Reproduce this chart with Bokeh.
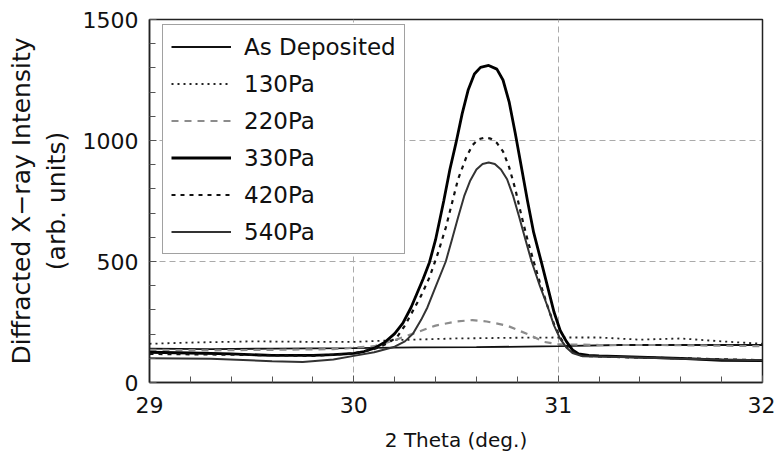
from bokeh.plotting import figure
from bokeh.embed import file_html
from bokeh.resources import INLINE
from bokeh.models import FixedTicker, Range1d

# ---- data ----
x_asdep = [29.0, 29.3, 29.6, 30.0, 30.3, 30.6, 31.0, 31.3, 31.6, 32.0]
y_asdep = [140, 138, 140, 142, 145, 146, 150, 155, 155, 155]

x_130 = [29.0, 29.2, 29.5, 29.8, 30.0, 30.2, 30.5, 30.8, 31.0, 31.2, 31.4, 31.6, 31.8, 32.0]
y_130 = [160, 165, 170, 168, 168, 175, 182, 185, 186, 186, 177, 182, 170, 160]

x_220 = [29.0, 29.3, 29.6, 29.9, 30.1, 30.2, 30.29, 30.4, 30.5, 30.58, 30.65, 30.75, 30.85,
         30.93, 31.0, 31.2, 31.5, 31.8, 32.0]
y_220 = [135, 133, 135, 138, 150, 175, 202, 235, 252, 258, 252, 235, 200, 168, 158, 155, 155, 152, 150]

x_330 = [29.0, 29.2, 29.4, 29.6, 29.8, 29.9, 30.0, 30.05, 30.1, 30.15, 30.2, 30.24, 30.28,
         30.31, 30.34, 30.37, 30.4, 30.44, 30.47, 30.5, 30.53, 30.56, 30.59, 30.62, 30.66,
         30.7, 30.73, 30.76, 30.79, 30.82, 30.85, 30.88, 30.92, 30.95, 30.98, 31.01, 31.04,
         31.07, 31.1, 31.15, 31.2, 31.4, 31.6, 31.8, 32.0]
y_330 = [125, 122, 118, 112, 112, 115, 120, 128, 142, 165, 202, 245, 310,
         370, 430, 496, 590, 750, 880, 990, 1110, 1210, 1275, 1302, 1310,
         1295, 1250, 1160, 1030, 890, 750, 620, 490, 390, 290, 215, 170,
         135, 118, 112, 110, 105, 100, 92, 90]

x_420 = [29.0, 29.4, 29.8, 30.0, 30.1, 30.16, 30.21, 30.25, 30.29, 30.33, 30.37, 30.41, 30.45,
         30.48, 30.51, 30.55, 30.58, 30.61, 30.64, 30.67, 30.7, 30.73, 30.76, 30.79, 30.82,
         30.85, 30.88, 30.91, 30.95, 30.98, 31.01, 31.04, 31.08, 31.12, 31.3, 31.6, 32.0]
y_420 = [118, 115, 110, 120, 138, 160, 186, 235, 298, 360, 434, 530, 640,
         740, 840, 930, 980, 1005, 1012, 1008, 990, 955, 890, 800, 690,
         590, 500, 415, 310, 240, 185, 148, 122, 110, 105, 100, 92]

x_540 = [29.0, 29.3, 29.6, 29.75, 29.9, 30.0, 30.1, 30.2, 30.25, 30.29, 30.33, 30.36, 30.4,
         30.45, 30.48, 30.51, 30.54, 30.57, 30.6, 30.63, 30.66, 30.69, 30.72, 30.75, 30.78,
         30.81, 30.84, 30.87, 30.91, 30.95, 30.98, 31.01, 31.04, 31.07, 31.12, 31.3, 31.6, 32.0]
y_540 = [100, 98, 88, 85, 95, 110, 125, 148, 170, 202, 260, 310, 395,
         500, 590, 682, 770, 835, 880, 903, 909, 903, 880, 840, 770,
         682, 590, 500, 400, 310, 235, 180, 145, 122, 108, 105, 98, 92]

x_ticks = [29, 30, 31, 32]
y_ticks = [0, 500, 1000, 1500]

FONT = "DejaVu Sans"

p = figure(width=775, height=460, output_backend="svg", toolbar_location=None,
           x_range=Range1d(29, 32), y_range=Range1d(0, 1500),
           min_border_left=149, min_border_right=13, min_border_top=19, min_border_bottom=78)
p.background_fill_color = "white"
p.border_fill_color = "white"
p.outline_line_color = "#222222"
p.outline_line_width = 1.5

series = [
    (x_asdep, y_asdep, "As Deposited", "#111111", 1.8, "solid"),
    (x_130, y_130, "130Pa", "#222222", 1.8, "2 4"),
    (x_220, y_220, "220Pa", "#8c8c8c", 2.2, "7 6"),
    (x_330, y_330, "330Pa", "#000000", 2.8, "solid"),
    (x_420, y_420, "420Pa", "#111111", 2.2, "4 5"),
    (x_540, y_540, "540Pa", "#333333", 2.0, "solid"),
]
for xs, ys, lab, col, w, dash in series:
    p.line(xs, ys, line_color=col, line_width=w, line_dash=dash, legend_label=lab)

for ax in (p.xaxis[0], p.yaxis[0]):
    ax.major_tick_in = 7
    ax.major_tick_out = 0
    ax.minor_tick_in = 6
    ax.minor_tick_out = 0
    ax.axis_line_color = "#222222"
    ax.axis_line_width = 1.5
    ax.major_tick_line_color = "#555555"
    ax.minor_tick_line_color = "#555555"
    ax.major_label_text_font = FONT
    ax.major_label_text_font_size = "22px"
    ax.major_label_text_color = "#111111"
    ax.axis_label_text_font = FONT
    ax.axis_label_text_font_style = "normal"
    ax.axis_label_text_color = "#111111"

p.xaxis.axis_label_text_font_size = "20px"
p.yaxis.axis_label_text_font_size = "25px"
p.xaxis.ticker = FixedTicker(ticks=x_ticks, minor_ticks=[29 + 0.2 * i for i in range(16)])
p.yaxis.ticker = FixedTicker(ticks=y_ticks, minor_ticks=[100 * i for i in range(16)])
p.xaxis.major_label_standoff = 14
p.yaxis.major_label_standoff = 11
p.xaxis.axis_label = "2 Theta (deg.)"
p.yaxis.axis_label = "Diffracted X\u2212ray Intensity\n(arb. units)"
p.xaxis.axis_label_standoff = 12
p.yaxis.axis_label_standoff = 9

for g in (p.xgrid[0], p.ygrid[0]):
    g.grid_line_color = "#aaaaaa"
    g.grid_line_dash = "6 4"
    g.grid_line_width = 1
p.xgrid.ticker = FixedTicker(ticks=[30, 31])
p.ygrid.ticker = FixedTicker(ticks=[500, 1000])

lg = p.legend[0]
lg.location = (13, 128)
lg.margin = 0
lg.padding = 8
lg.spacing = 10
lg.glyph_width = 60
lg.glyph_height = 27
lg.label_height = 27
lg.label_standoff = 13
lg.label_text_font = FONT
lg.label_text_font_size = "23px"
lg.label_text_color = "#111111"
lg.border_line_color = "#444444"
lg.border_line_width = 1.5
lg.background_fill_color = "white"
lg.background_fill_alpha = 1.0

open("out.html", "w").write(file_html(p, INLINE))
